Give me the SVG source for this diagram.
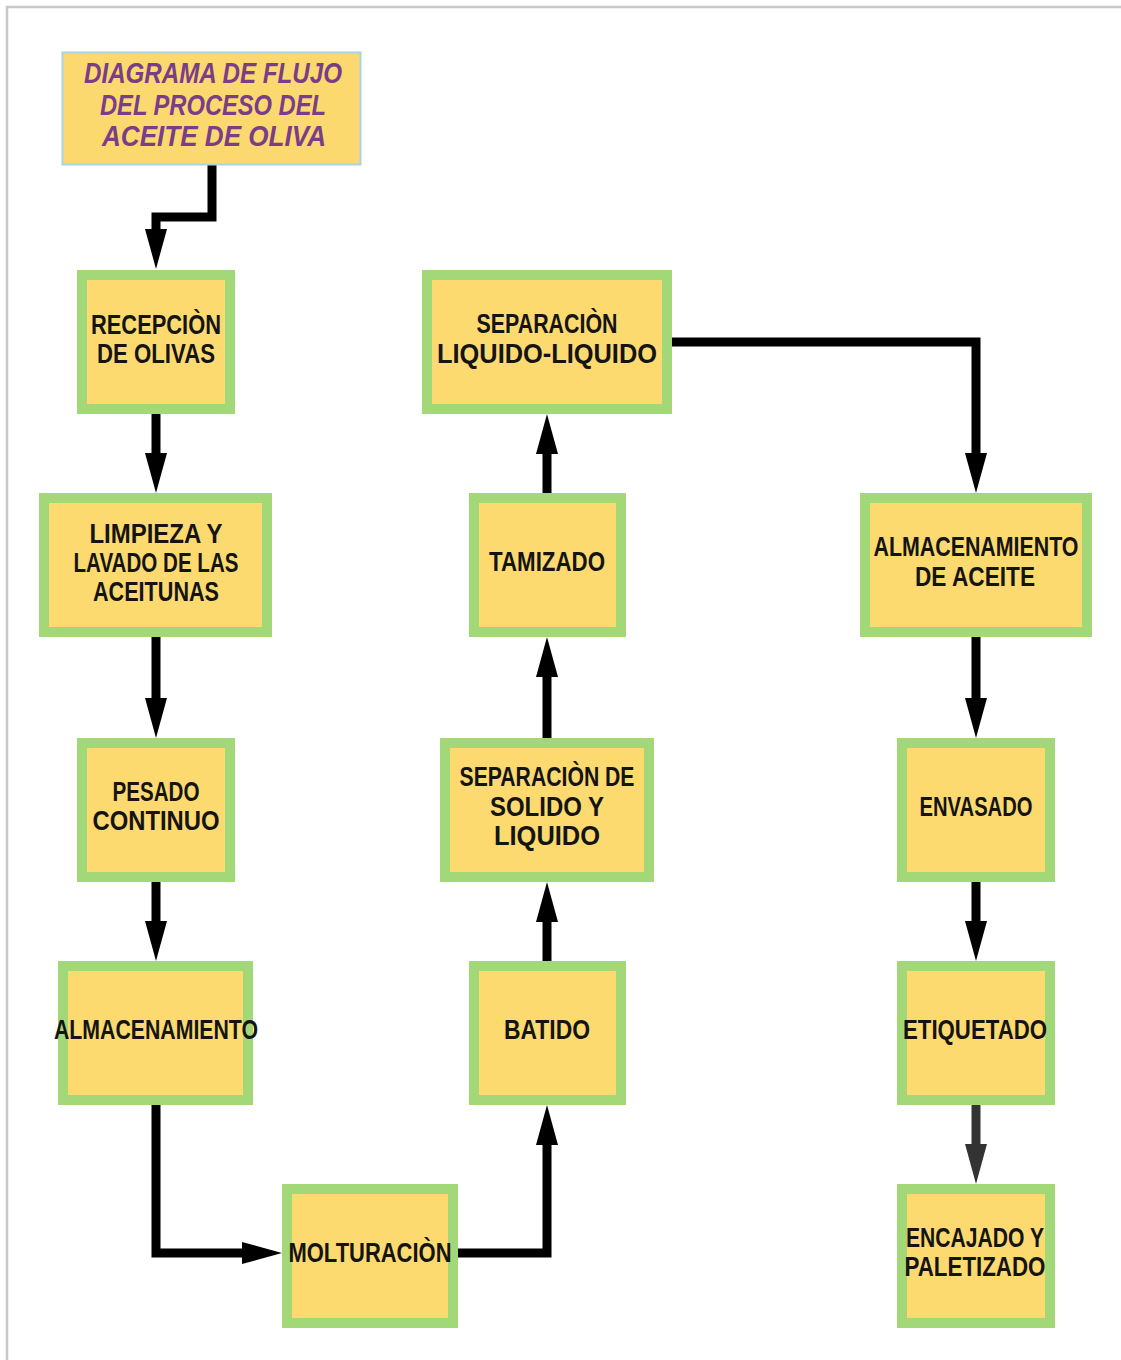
<svg xmlns="http://www.w3.org/2000/svg" width="1121" height="1360" viewBox="0 0 1121 1360">
<style>
.box{fill:#FCDA6F;stroke:#A3D878;stroke-width:10}
.lbl{font-family:"Liberation Sans Narrow","Liberation Sans",sans-serif;font-weight:bold;font-size:27px;fill:#141414;text-anchor:middle}
.ttl{font-family:"Liberation Sans Narrow","Liberation Sans",sans-serif;font-weight:bold;font-style:italic;font-size:29px;fill:#7A3D88;text-anchor:middle}
.con{fill:none;stroke:#000;stroke-width:9;stroke-linejoin:miter}
</style>
<defs>
<marker id="ah" markerUnits="userSpaceOnUse" markerWidth="40" markerHeight="22" refX="0" refY="11" orient="auto" viewBox="0 0 40 22">
<path d="M0,0 L40,11 L0,22 z" fill="#000"/>
</marker>
<marker id="ahg" markerUnits="userSpaceOnUse" markerWidth="40" markerHeight="22" refX="0" refY="11" orient="auto" viewBox="0 0 40 22">
<path d="M0,0 L40,11 L0,22 z" fill="#333"/>
</marker>
</defs>
<rect x="0" y="0" width="1121" height="1360" fill="#fff"/>
<path d="M7,1360 V7 H1121" fill="none" stroke="#c8c8c8" stroke-width="2.5"/>

<g id="connectors">
<path class="con" d="M212,165 V217 H156 V229" marker-end="url(#ah)"/>
<path class="con" d="M156,414 V453" marker-end="url(#ah)"/>
<path class="con" d="M156,637 V698" marker-end="url(#ah)"/>
<path class="con" d="M156,882 V921" marker-end="url(#ah)"/>
<path class="con" d="M156,1105 V1253 H242" marker-end="url(#ah)"/>
<path class="con" d="M458,1253 H547 V1145" marker-end="url(#ah)"/>
<path class="con" d="M547,961 V922" marker-end="url(#ah)"/>
<path class="con" d="M547,738 V677" marker-end="url(#ah)"/>
<path class="con" d="M547,493 V454" marker-end="url(#ah)"/>
<path class="con" d="M672,342 H976 V453" marker-end="url(#ah)"/>
<path class="con" d="M976,637 V698" marker-end="url(#ah)"/>
<path class="con" d="M976,882 V921" marker-end="url(#ah)"/>
<path class="con" d="M976,1105 V1144" marker-end="url(#ahg)" style="stroke:#333"/>
</g>

<g id="title">
<rect x="62.5" y="52.5" width="298" height="112" fill="#FCD96E" stroke="#A8D3E3" stroke-width="2"/>
<text class="ttl" x="213" y="83" textLength="258" lengthAdjust="spacingAndGlyphs">DIAGRAMA DE FLUJO</text>
<text class="ttl" x="213" y="115" textLength="226" lengthAdjust="spacingAndGlyphs">DEL PROCESO DEL</text>
<text class="ttl" x="214" y="146" textLength="224" lengthAdjust="spacingAndGlyphs">ACEITE DE OLIVA</text>
</g>

<g id="recepcion">
<rect class="box" x="82" y="275" width="148" height="134"/>
<text class="lbl" x="156" y="334" textLength="130" lengthAdjust="spacingAndGlyphs">RECEPCIÒN</text>
<text class="lbl" x="156" y="363" textLength="118" lengthAdjust="spacingAndGlyphs">DE OLIVAS</text>
</g>

<g id="limpieza">
<rect class="box" x="44" y="498" width="223" height="134"/>
<text class="lbl" x="156" y="543" textLength="133" lengthAdjust="spacingAndGlyphs">LIMPIEZA Y</text>
<text class="lbl" x="156" y="572" textLength="165" lengthAdjust="spacingAndGlyphs">LAVADO DE LAS</text>
<text class="lbl" x="156" y="601" textLength="126" lengthAdjust="spacingAndGlyphs">ACEITUNAS</text>
</g>

<g id="pesado">
<rect class="box" x="82" y="743" width="148" height="134"/>
<text class="lbl" x="156" y="801" textLength="87" lengthAdjust="spacingAndGlyphs">PESADO</text>
<text class="lbl" x="156" y="830" textLength="127" lengthAdjust="spacingAndGlyphs">CONTINUO</text>
</g>

<g id="almacenamiento">
<rect class="box" x="63" y="966" width="185" height="134"/>
<text class="lbl" x="156" y="1039" textLength="204" lengthAdjust="spacingAndGlyphs">ALMACENAMIENTO</text>
</g>

<g id="molturacion">
<rect class="box" x="287" y="1189" width="166" height="134"/>
<text class="lbl" x="370" y="1262" textLength="163" lengthAdjust="spacingAndGlyphs">MOLTURACIÒN</text>
</g>

<g id="batido">
<rect class="box" x="474" y="966" width="147" height="134"/>
<text class="lbl" x="547" y="1039" textLength="86" lengthAdjust="spacingAndGlyphs">BATIDO</text>
</g>

<g id="separacion-solido">
<rect class="box" x="445" y="743" width="204" height="134"/>
<text class="lbl" x="547" y="786" textLength="175" lengthAdjust="spacingAndGlyphs">SEPARACIÒN DE</text>
<text class="lbl" x="547" y="816" textLength="114" lengthAdjust="spacingAndGlyphs">SOLIDO Y</text>
<text class="lbl" x="547" y="845" textLength="106" lengthAdjust="spacingAndGlyphs">LIQUIDO</text>
</g>

<g id="tamizado">
<rect class="box" x="474" y="498" width="147" height="134"/>
<text class="lbl" x="547" y="571" textLength="116" lengthAdjust="spacingAndGlyphs">TAMIZADO</text>
</g>

<g id="separacion-liquido">
<rect class="box" x="427" y="275" width="240" height="134"/>
<text class="lbl" x="547" y="333" textLength="141" lengthAdjust="spacingAndGlyphs">SEPARACIÒN</text>
<text class="lbl" x="547" y="363" textLength="220" lengthAdjust="spacingAndGlyphs">LIQUIDO-LIQUIDO</text>
</g>

<g id="almacenamiento-aceite">
<rect class="box" x="865" y="498" width="222" height="134"/>
<text class="lbl" x="976" y="556" textLength="205" lengthAdjust="spacingAndGlyphs">ALMACENAMIENTO</text>
<text class="lbl" x="975" y="586" textLength="120" lengthAdjust="spacingAndGlyphs">DE ACEITE</text>
</g>

<g id="envasado">
<rect class="box" x="902" y="743" width="148" height="134"/>
<text class="lbl" x="976" y="816" textLength="113" lengthAdjust="spacingAndGlyphs">ENVASADO</text>
</g>

<g id="etiquetado">
<rect class="box" x="902" y="966" width="148" height="134"/>
<text class="lbl" x="975" y="1039" textLength="144" lengthAdjust="spacingAndGlyphs">ETIQUETADO</text>
</g>

<g id="encajado">
<rect class="box" x="902" y="1189" width="148" height="134"/>
<text class="lbl" x="975" y="1247" textLength="138" lengthAdjust="spacingAndGlyphs">ENCAJADO Y</text>
<text class="lbl" x="975" y="1276" textLength="141" lengthAdjust="spacingAndGlyphs">PALETIZADO</text>
</g>
</svg>
